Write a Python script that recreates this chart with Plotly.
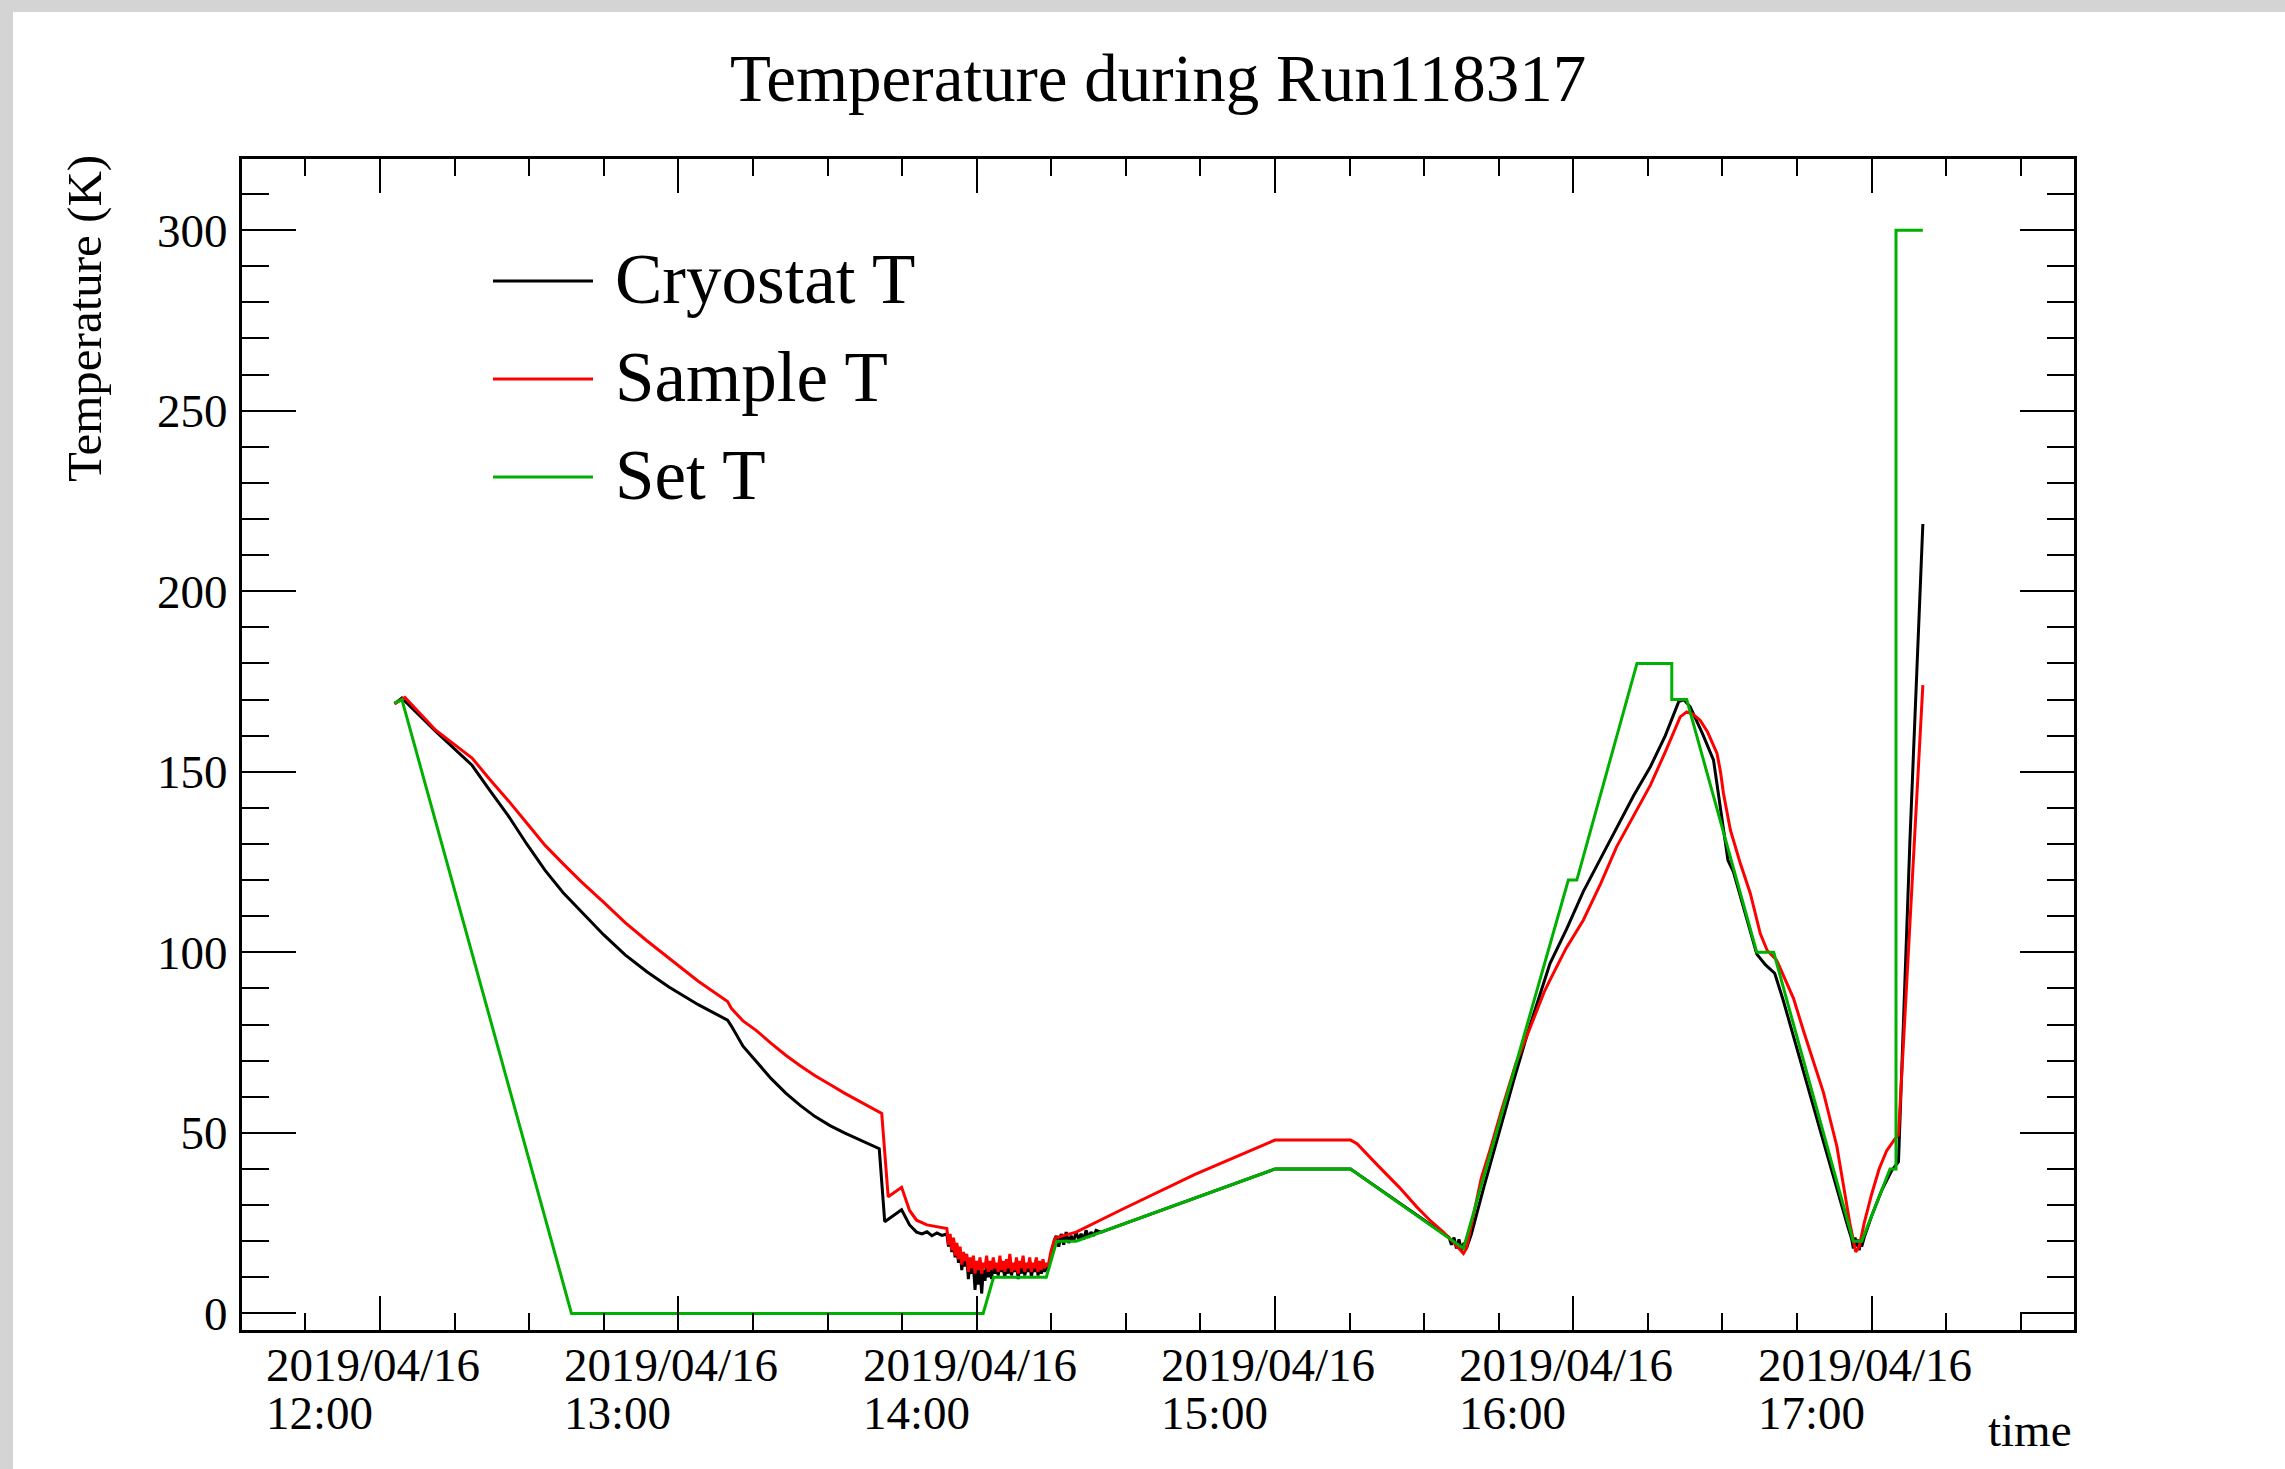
import plotly.graph_objects as go

DAY = "2019-04-16 "

# ---------------- data ----------------
# Cryostat T
cryo_time = [
    "12:02:54", "12:04:24", "12:11:12", "12:18:30", "12:22:00", "12:25:48", "12:29:30",
    "12:33:12", "12:36:50", "12:40:30", "12:45:00", "12:49:18", "12:53:40", "12:58:06",
    "13:04:00", "13:09:54", "13:10:42", "13:13:00", "13:15:42", "13:18:40", "13:21:36",
    "13:24:30", "13:27:30", "13:30:30", "13:33:24", "13:37:00", "13:40:24", "13:41:30",
    "13:43:00", "13:44:54", "13:46:30", "13:47:54", "13:49:00", "13:50:00", "13:51:00",
    "13:52:00", "13:53:00",
]
cryo_temp = [
    168.8, 170.4, 161.2, 151.8, 145.0, 137.8, 130.0,
    122.7, 116.5, 111.2, 104.8, 99.3, 94.6, 90.4,
    85.5, 81.2, 79.5, 74.0, 69.8, 65.0, 61.0,
    57.6, 54.5, 52.0, 50.0, 47.8, 45.6, 25.4,
    26.8, 28.7, 24.5, 22.5, 22.0, 22.6, 21.5,
    22.3, 21.6,
]
cryo_noise_time = [
    "13:54:00", "13:54:20", "13:54:40", "13:55:00", "13:55:20", "13:55:40", "13:56:00",
    "13:56:20", "13:56:40", "13:57:00", "13:57:20", "13:57:40", "13:58:00", "13:58:20",
    "13:58:40", "13:59:00", "13:59:20", "13:59:40", "14:00:00", "14:00:20", "14:00:40",
    "14:01:00", "14:01:20", "14:01:40", "14:02:00", "14:02:20", "14:02:40", "14:03:00",
    "14:03:20", "14:03:40", "14:04:00", "14:04:20", "14:04:40", "14:05:00", "14:05:20",
    "14:05:40", "14:06:00", "14:06:20", "14:06:40", "14:07:00", "14:07:20", "14:07:40",
    "14:08:00", "14:08:20", "14:08:40", "14:09:00", "14:09:20", "14:09:40", "14:10:00",
    "14:10:20", "14:10:40", "14:11:00", "14:11:20", "14:11:40", "14:12:00", "14:12:20",
    "14:12:40", "14:13:00", "14:13:20", "14:13:40", "14:14:00", "14:14:20", "14:14:40",
    "14:15:00", "14:15:20", "14:15:40", "14:16:00", "14:16:30", "14:17:00", "14:17:30",
    "14:18:00", "14:18:30", "14:19:00", "14:19:30", "14:20:00", "14:20:30", "14:21:00",
    "14:21:30", "14:22:00", "14:22:30", "14:23:00", "14:23:30", "14:24:00", "14:25:00",
]
cryo_noise_temp = [
    22.0, 18.5, 21.0, 17.0, 20.5, 15.5, 19.0,
    14.0, 17.5, 12.0, 16.5, 13.0, 15.5, 9.5,
    14.5, 11.0, 13.5, 6.5, 12.5, 8.0, 13.0,
    5.5, 12.0, 9.0, 14.0, 10.0, 12.5, 9.5,
    14.5, 11.0, 13.0, 10.5, 15.0, 11.5, 12.5,
    10.0, 14.0, 11.0, 15.5, 10.5, 13.0, 11.5,
    14.5, 9.5, 13.5, 11.0, 15.0, 10.5, 12.5,
    11.5, 14.5, 10.0, 13.0, 11.5, 15.0, 10.5,
    13.5, 11.0, 14.0, 11.5, 13.0, 12.0, 14.5,
    16.5, 18.5, 20.5, 21.5, 18.5, 22.0, 19.0,
    22.5, 19.5, 21.5, 20.0, 22.5, 20.5, 22.0,
    20.5, 23.0, 21.0, 22.5, 21.5, 23.0, 22.5,
]
cryo_time2 = [
    "14:30:00", "14:40:00", "14:50:00", "15:00:00", "15:15:12", "15:25:00", "15:35:00",
    "15:35:30", "15:36:00", "15:36:30", "15:37:00", "15:37:30", "15:38:00", "15:38:30",
    "15:39:30", "15:42:00", "15:45:00", "15:48:00", "15:51:00", "15:55:18", "15:58:40",
    "16:02:00", "16:05:30", "16:08:48", "16:12:10", "16:15:30", "16:18:30", "16:21:12",
    "16:22:12", "16:23:30", "16:26:00", "16:28:12", "16:28:48", "16:29:48", "16:31:06",
    "16:32:12", "16:34:30", "16:36:54", "16:38:40", "16:40:30", "16:42:12", "16:45:00",
    "16:50:00", "16:55:00", "16:56:00", "16:56:20", "16:56:40", "16:57:00", "16:57:15",
    "16:57:30", "16:57:45", "16:58:00", "16:58:30", "17:00:00", "17:02:00", "17:04:00",
    "17:05:24", "17:07:42", "17:10:18",
]
cryo_temp2 = [
    25.0, 30.0, 35.0, 40.0, 40.0, 30.5, 21.0,
    19.0, 21.0, 18.0, 20.5, 17.5, 19.5, 18.0,
    22.0, 35.0, 50.0, 64.5, 78.5, 96.9, 106.5,
    116.8, 126.0, 134.8, 143.5, 151.4, 160.0, 169.4,
    170.0, 168.0, 160.5, 153.2, 147.7, 138.5, 125.5,
    122.3, 111.0, 99.5, 96.5, 94.2, 86.8, 73.0,
    49.0, 25.0, 20.5, 18.0, 21.0, 18.5, 20.5,
    17.5, 20.0, 18.5, 21.0, 27.0, 34.0, 39.5,
    42.0, 131.0, 218.6,
]

# Sample T
sample_time = [
    "12:02:54", "12:05:00", "12:11:12", "12:18:30", "12:22:00", "12:25:48", "12:29:30",
    "12:33:12", "12:36:50", "12:40:30", "12:45:00", "12:49:18", "12:53:40", "12:58:06",
    "13:04:00", "13:09:54", "13:10:42", "13:13:00", "13:15:42", "13:18:40", "13:21:36",
    "13:24:30", "13:27:30", "13:30:30", "13:33:24", "13:37:00", "13:40:54", "13:42:12",
    "13:43:30", "13:44:54", "13:46:30", "13:47:54", "13:50:00", "13:52:00",
]
sample_temp = [
    168.8, 170.6, 161.5, 153.8, 148.0, 142.0, 135.8,
    129.6, 124.5, 119.5, 113.8, 108.2, 103.2, 98.5,
    92.0, 86.4, 84.4, 81.0, 78.3, 74.8, 71.5,
    68.6, 65.8, 63.4, 61.0, 58.3, 55.4, 32.3,
    33.5, 34.9, 28.5, 25.8, 24.5, 24.0,
]
sample_noise_time = [
    "13:54:00", "13:54:20", "13:54:40", "13:55:00", "13:55:20", "13:55:40", "13:56:00",
    "13:56:20", "13:56:40", "13:57:00", "13:57:20", "13:57:40", "13:58:00", "13:58:20",
    "13:58:40", "13:59:00", "13:59:20", "13:59:40", "14:00:00", "14:00:20", "14:00:40",
    "14:01:00", "14:01:20", "14:01:40", "14:02:00", "14:02:20", "14:02:40", "14:03:00",
    "14:03:20", "14:03:40", "14:04:00", "14:04:20", "14:04:40", "14:05:00", "14:05:20",
    "14:05:40", "14:06:00", "14:06:20", "14:06:40", "14:07:00", "14:07:20", "14:07:40",
    "14:08:00", "14:08:20", "14:08:40", "14:09:00", "14:09:20", "14:09:40", "14:10:00",
    "14:10:20", "14:10:40", "14:11:00", "14:11:20", "14:11:40", "14:12:00", "14:12:20",
    "14:12:40", "14:13:00", "14:13:20", "14:13:40", "14:14:00", "14:14:20", "14:14:40",
    "14:15:00", "14:15:20", "14:15:40", "14:16:00",
]
sample_noise_temp = [
    23.5, 19.0, 22.0, 17.5, 21.0, 16.0, 19.5,
    15.0, 18.5, 13.5, 17.0, 14.5, 16.5, 11.5,
    15.5, 12.5, 16.0, 11.0, 14.5, 12.0, 15.5,
    11.0, 14.0, 12.5, 16.0, 11.5, 14.5, 12.0,
    15.5, 12.5, 14.0, 11.5, 16.0, 12.0, 14.5,
    11.5, 15.0, 12.5, 16.5, 11.5, 14.0, 12.0,
    15.5, 11.0, 14.5, 12.5, 16.0, 11.5, 14.0,
    12.5, 15.5, 11.5, 14.0, 12.5, 15.5, 11.5,
    14.5, 12.0, 15.0, 12.5, 14.0, 13.0, 15.5,
    17.5, 19.0, 20.5, 21.0,
]
sample_time2 = [
    "14:20:00", "14:29:06", "14:43:48", "15:00:00", "15:15:12", "15:16:30", "15:17:48",
    "15:21:00", "15:25:00", "15:28:30", "15:31:00", "15:33:48", "15:36:00", "15:37:54",
    "15:38:30", "15:40:00", "15:41:30", "15:43:18", "15:45:30", "15:48:24", "15:51:30",
    "15:54:12", "15:55:18", "15:58:30", "16:02:00", "16:05:30", "16:08:42", "16:12:00",
    "16:15:30", "16:18:30", "16:21:30", "16:22:48", "16:24:00", "16:25:30", "16:27:00",
    "16:28:54", "16:29:36", "16:30:12", "16:31:36", "16:33:30", "16:35:36", "16:37:36",
    "16:39:00", "16:40:54", "16:44:18", "16:46:18", "16:50:18", "16:53:00", "16:55:36",
    "16:56:48", "16:57:30", "16:58:30", "17:00:00", "17:01:30", "17:03:00", "17:04:30",
    "17:05:24", "17:10:18",
]
sample_temp2 = [
    22.5, 28.7, 38.4, 48.0, 48.0, 47.0, 45.2,
    40.5, 34.9, 29.5, 26.0, 22.6, 19.5, 16.6,
    18.0, 28.0, 37.5, 45.5, 56.0, 69.0, 80.0,
    89.2, 92.3, 101.0, 108.9, 119.0, 129.2, 137.5,
    146.3, 155.5, 165.2, 166.6, 166.0, 164.3, 161.0,
    155.1, 150.0, 144.0, 133.8, 125.0, 116.3, 105.2,
    100.5, 97.8, 87.2, 78.2, 61.2, 46.3, 25.1,
    17.0, 18.5, 25.0, 33.0, 40.0, 45.0, 48.0,
    49.5, 174.0,
]

# Set T
set_time = [
    "12:02:54", "12:04:24", "12:38:30", "14:01:18", "14:03:24", "14:14:00", "14:16:06",
    "14:20:00", "15:00:00", "15:15:12", "15:37:54", "15:59:00", "16:00:42", "16:12:48",
    "16:19:48", "16:19:48", "16:22:48", "16:36:54", "16:40:18", "16:56:18", "16:58:00",
    "17:03:42", "17:04:54", "17:04:54", "17:10:18",
]
set_temp = [
    169, 170, 0, 0, 10, 10, 20,
    20, 40, 40, 18, 120, 120, 180,
    180, 170, 170, 100, 100, 20, 20,
    40, 40, 300, 300,
]

hour_ticks = ["12:00", "13:00", "14:00", "15:00", "16:00", "17:00"]
date_label = "2019/04/16"
series_names = ["Cryostat T", "Sample T", "Set T"]
series_colors = ["black", "#ff0000", "#00b000"]

# ---------------- layout geometry (pixels) ----------------
W, H = 2285, 1469
L, R, T, B = 242, 2074, 159, 1330
FONT = "Liberation Serif, Times New Roman, serif"


def px(x):
    return (x - L) / (R - L)


def py(y):
    return (B - y) / (B - T)


series = [
    (cryo_time + cryo_noise_time + cryo_time2, cryo_temp + cryo_noise_temp + cryo_temp2),
    (sample_time + sample_noise_time + sample_time2, sample_temp + sample_noise_temp + sample_temp2),
    (set_time, set_temp),
]

fig = go.Figure()
for name, (tt, vv), col in zip(series_names, series, series_colors):
    fig.add_trace(go.Scatter(
        x=[DAY + t for t in tt], y=vv, mode="lines", name=name,
        line=dict(color=col, width=3), showlegend=False,
    ))

annotations = []
annotations.append(dict(text="Temperature during Run118317", x=px(1158), y=py(78),
                        xref="paper", yref="paper", xanchor="center", yanchor="middle",
                        showarrow=False, font=dict(family=FONT, size=67, color="black")))
annotations.append(dict(text="Temperature (K)", x=px(84), y=py(319), textangle=-90,
                        xref="paper", yref="paper", xanchor="center", yanchor="middle",
                        showarrow=False, font=dict(family=FONT, size=49, color="black")))
annotations.append(dict(text="time", x=px(2074), y=py(1430), xref="paper", yref="paper",
                        xanchor="right", yanchor="middle", showarrow=False,
                        font=dict(family=FONT, size=47, color="black")))
for h in hour_ticks:
    for txt, yc in [(date_label, 1365), (h, 1413)]:
        annotations.append(dict(text=txt, x=DAY + h + ":00", xref="x", y=py(yc), yref="paper",
                                xanchor="left", yanchor="middle", xshift=-116,
                                showarrow=False,
                                font=dict(family=FONT, size=47, color="black")))
shapes = []
leg_y = [281, 379, 477]
for name, col, yy in zip(series_names, series_colors, leg_y):
    shapes.append(dict(type="line", xref="paper", yref="paper", x0=px(493), x1=px(593),
                       y0=py(yy), y1=py(yy), line=dict(color=col, width=3)))
    annotations.append(dict(text=name, x=px(613), y=py(yy - 2), xref="paper", yref="paper",
                            xanchor="left", yanchor="middle", showarrow=False,
                            font=dict(family=FONT, size=71, color="black")))
shapes.append(dict(type="rect", xref="paper", yref="paper", layer="below",
                   x0=px(13), x1=px(W + 20), y0=py(H + 20), y1=py(12),
                   fillcolor="white", line=dict(width=0)))

fig.update_layout(
    width=W, height=H,
    margin=dict(l=L, r=W - R, t=T, b=H - B, pad=0),
    paper_bgcolor="#d4d4d4", plot_bgcolor="white",
    annotations=annotations, shapes=shapes, showlegend=False,
    font=dict(family=FONT, color="black"),
)
fig.update_xaxes(
    type="date", range=[DAY + "11:32:14", DAY + "17:40:42"],
    showline=True, linewidth=3, linecolor="black", mirror="allticks",
    ticks="inside", ticklen=34, tickwidth=2, tickcolor="black",
    tick0=DAY + "12:00:00", dtick=3600000, showticklabels=False,
    showgrid=False, zeroline=False,
    minor=dict(ticks="inside", ticklen=17, tickwidth=2, tickcolor="black",
               dtick=900000, tick0=DAY + "12:00:00", showgrid=False),
)
fig.update_yaxes(
    range=[-4.6, 319.7],
    showline=True, linewidth=3, linecolor="black", mirror="allticks",
    ticks="inside", ticklen=54, tickwidth=2, tickcolor="black",
    tick0=0, dtick=50, ticklabelstandoff=2,
    tickfont=dict(family=FONT, size=47, color="black"),
    showgrid=False, zeroline=False,
    minor=dict(ticks="inside", ticklen=27, tickwidth=2, tickcolor="black",
               dtick=10, tick0=0, showgrid=False),
)

fig.write_html("out.html", config={"displayModeBar": False},
               post_script="document.body.style.margin='0px';")
